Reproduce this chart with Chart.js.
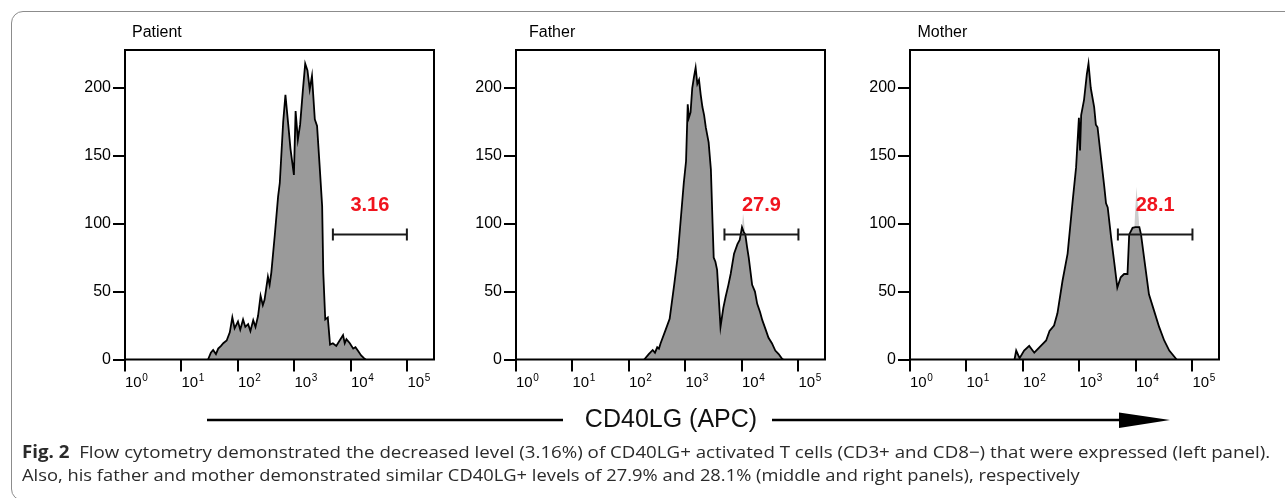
<!DOCTYPE html>
<html>
<head>
<meta charset="utf-8">
<script src="https://cdn.jsdelivr.net/npm/chart.js@4.4.0/dist/chart.umd.min.js"></script>
<style>
    body { margin: 0; background: #fff; width: 1285px; height: 498px; overflow: hidden; position: relative; font-family: "Liberation Sans", Arial, sans-serif; }
    .panel { position: absolute; top: 14px; }
    #frame { position: absolute; left: 11px; top: 11px; width: 1300px; height: 490px; border: 1.5px solid #8c8c8c; border-radius: 12px; box-sizing: border-box; }
    #arrow { position: absolute; left: 0; top: 0; }
    #axisTitle { position: absolute; left: 671px; top: 406px; transform: translateX(-50%); font-size: 25px; line-height: 25px; white-space: nowrap; color: #111; }
    .cap { position: absolute; left: 22px; font-family: "Open Sans", sans-serif; font-size: 17px; line-height: 17px; white-space: nowrap; color: #2a2a2a; transform-origin: 0 0; }
</style>
</head>
<body>
<div id="frame"></div>
<canvas id="PatientCanvas" class="panel" width="400" height="380" style="left:50px"></canvas>
<canvas id="FatherCanvas" class="panel" width="400" height="380" style="left:441px"></canvas>
<canvas id="MotherCanvas" class="panel" width="400" height="380" style="left:835px"></canvas>
<svg id="arrow" width="1285" height="498">
    <line x1="207" y1="420" x2="563" y2="420" stroke="#000" stroke-width="2.5"></line>
    <line x1="772" y1="420" x2="1122" y2="420" stroke="#000" stroke-width="2.5"></line>
    <polygon points="1119,412.5 1170,420 1119,428" fill="#000"></polygon>
</svg>
<div id="axisTitle">CD40LG (APC)</div>
<div id="cap1" class="cap" style="top:443px"><b>Fig. 2</b>&nbsp;&nbsp;Flow cytometry demonstrated the decreased level (3.16%) of CD40LG+ activated T cells (CD3+ and CD8−) that were expressed (left panel).</div>
<div id="cap2" class="cap" style="top:466px">Also, his father and mother demonstrated similar CD40LG+ levels of 27.9% and 28.1% (middle and right panels), respectively</div>

<script>
// x values are in decades (log10 of APC intensity), y values are cell counts
var decadeTicks = [0, 1, 2, 3, 4, 5];

var patientX = [1.47, 1.52, 1.56, 1.61, 1.65, 1.70, 1.74, 1.80, 1.855, 1.90, 1.94, 2.0, 2.04, 2.09, 2.13, 2.18, 2.22, 2.27, 2.31, 2.355, 2.40, 2.44, 2.47, 2.53, 2.56, 2.59, 2.65, 2.71, 2.74, 2.80, 2.84, 2.89, 2.93, 2.99, 3.02, 3.06, 3.10, 3.15, 3.19, 3.23, 3.27, 3.31, 3.36, 3.40, 3.445, 3.49, 3.51, 3.545, 3.59, 3.63, 3.68, 3.74, 3.80, 3.86, 3.89, 3.92, 3.98, 4.04, 4.08, 4.13, 4.18, 4.23, 4.26];
var patientY = [0, 5, 7, 4, 8, 10, 12, 14, 20, 31, 23, 28, 22, 29.5, 24, 26, 21, 29, 24, 32, 47, 40, 44, 61, 55, 64, 91, 120, 130, 175, 195, 173, 155, 136, 183, 162, 173, 199, 218, 213, 199, 209, 177, 172, 143, 113, 64, 29.5, 31, 11, 12, 10, 14, 18, 12, 15, 12, 8, 9, 6, 3, 1, 0];

var fatherX = [2.27, 2.35, 2.42, 2.46, 2.50, 2.53, 2.56, 2.65, 2.72, 2.80, 2.86, 2.90, 2.97, 3.01, 3.04, 3.06, 3.09, 3.12, 3.15, 3.18, 3.21, 3.24, 3.27, 3.30, 3.33, 3.36, 3.41, 3.45, 3.48, 3.50, 3.53, 3.56, 3.62, 3.67, 3.71, 3.76, 3.80, 3.86, 3.92, 3.96, 4.00, 4.03, 4.06, 4.09, 4.12, 4.18, 4.23, 4.27, 4.32, 4.36, 4.42, 4.47, 4.53, 4.59, 4.65, 4.71, 4.73];
var fatherY = [0, 4, 7, 5, 9, 8, 12, 22, 30, 55, 75, 95, 130, 146, 188, 178, 182, 200, 208, 215, 203, 206, 195, 186, 180, 171, 160, 140, 100, 75, 72, 66, 24, 38, 46, 55, 63, 78, 85, 88, 97.5, 94, 92, 83, 75, 55, 50, 41, 35, 29, 22, 16, 12, 6.6, 4, 0.5, 0];

var motherX = [1.85, 1.88, 1.94, 2.02, 2.11, 2.20, 2.29, 2.41, 2.47, 2.55, 2.61, 2.70, 2.79, 2.88, 2.94, 2.99, 3.01, 3.03, 3.08, 3.13, 3.16, 3.20, 3.26, 3.29, 3.32, 3.38, 3.44, 3.47, 3.50, 3.56, 3.62, 3.67, 3.73, 3.79, 3.85, 3.88, 3.94, 3.99, 4.06, 4.09, 4.15, 4.23, 4.32, 4.41, 4.50, 4.59, 4.68, 4.72];
var motherY = [0, 6.6, 1, 6.6, 10, 5, 9, 14, 21, 25, 34, 58, 78, 117, 141.5, 178, 154, 180, 191, 210, 218, 200, 186, 173, 171, 149, 127, 115, 112, 90, 70, 53, 60.6, 63, 63, 92, 97, 97.5, 97.5, 92, 73, 48, 36, 24, 14, 6.6, 2, 0];

// faint light-grey peaks above the gate
var fatherSpikeX = [4.00, 4.02, 4.05];
var fatherSpikeY = [97, 107.5, 97];
var motherSpikeX = [3.97, 4.01, 4.06];
var motherSpikeY = [97, 127, 97];

var panelTitles = ['Patient', 'Father', 'Mother'];
var gatePercent = ['3.16', '27.9', '28.1'];
var gateLow = [3.68, 3.69, 3.68];
var gateHigh = [4.99, 5.0, 5.0];
var gateLevel = [92, 92, 92];

var FONT = '"Liberation Sans", Arial, sans-serif';

function toPoints(xs, ys) {
    var pts = [];
    xs.forEach(function (x, i) {
        pts.push({ x: x, y: ys[i] });
    });
    return pts;
}

var panelDecor = {
    id: 'panelDecor',
    afterDraw: function (chart) {
        var o = chart.options.plugins.panelDecor;
        var ctx = chart.ctx;
        var a = chart.chartArea;
        var xs = chart.scales.x, ys = chart.scales.y;
        ctx.save();
        ctx.strokeStyle = '#000';
        ctx.lineWidth = 2;
        ctx.strokeRect(a.left, a.top, a.right - a.left, a.bottom - a.top);

        // exponents of the 10^n tick labels
        ctx.font = '15px ' + FONT;
        var base = ctx.measureText('10').width;
        ctx.font = '10px ' + FONT;
        ctx.fillStyle = '#000';
        ctx.textAlign = 'left';
        ctx.textBaseline = 'top';
        decadeTicks.forEach(function (d) {
            ctx.fillText(String(d), xs.getPixelForValue(d) + base + 0.5, a.bottom + 14);
        });

        ctx.font = '16px ' + FONT;
        ctx.textBaseline = 'middle';
        ctx.fillText(o.title, a.left + o.titleOffset, a.top - 17);

        ctx.fillStyle = '#f0141e';
        ctx.font = 'bold 20px ' + FONT;
        ctx.textAlign = 'center';
        ctx.fillText(o.percent, xs.getPixelForValue((o.low + o.high) / 2), ys.getPixelForValue(o.level) - 29);
        ctx.restore();
    }
};

function InitPanel(canvasId, i, xs, ys, spikeX, spikeY, titleOffset) {
    var datasets = [
        {
            label: 'gate',
            data: toPoints([gateLow[i], gateHigh[i]], [gateLevel[i], gateLevel[i]]),
            borderColor: '#1a1a1a',
            borderWidth: 2,
            pointStyle: 'line',
            rotation: 90,
            pointRadius: 6,
            pointBorderWidth: 2,
            pointBorderColor: '#1a1a1a',
            fill: false,
            order: 0
        },
        {
            label: panelTitles[i],
            data: toPoints(xs, ys),
            borderColor: '#000',
            borderWidth: 1.8,
            backgroundColor: '#9a9a9a',
            pointRadius: 0,
            tension: 0,
            fill: 'origin',
            order: 1
        }
    ];
    if (spikeX) {
        datasets.push({
            label: 'spike',
            data: toPoints(spikeX, spikeY),
            borderWidth: 0,
            borderColor: 'rgba(0,0,0,0)',
            backgroundColor: 'rgba(200,200,200,0.9)',
            pointRadius: 0,
            fill: 'origin',
            order: 2
        });
    }

    new Chart(document.getElementById(canvasId), {
        type: 'line',
        data: { datasets: datasets },
        options: {
            responsive: false,
            animation: false,
            layout: { padding: { left: 0, top: 36, right: 16, bottom: 4.5 } },
            plugins: {
                legend: { display: false },
                tooltip: { enabled: false },
                panelDecor: {
                    title: panelTitles[i],
                    titleOffset: titleOffset,
                    percent: gatePercent[i],
                    low: gateLow[i],
                    high: gateHigh[i],
                    level: gateLevel[i]
                }
            },
            scales: {
                x: {
                    type: 'linear',
                    min: 0,
                    max: 5.47,
                    afterFit: function (scale) { scale.height = 30; },
                    border: { display: false },
                    grid: { drawOnChartArea: false, drawTicks: true, tickLength: 12, color: '#000', lineWidth: 2 },
                    ticks: {
                        stepSize: 1,
                        includeBounds: false,
                        autoSkip: false,
                        maxRotation: 0,
                        align: 'start',
                        padding: 2,
                        color: '#000',
                        font: { family: FONT, size: 15 },
                        callback: function () { return '10'; }
                    }
                },
                y: {
                    min: 0,
                    max: 228,
                    afterFit: function (scale) { scale.width = 75; },
                    border: { display: false },
                    grid: { drawOnChartArea: false, drawTicks: true, tickLength: 12, color: '#000', lineWidth: 2 },
                    ticks: {
                        stepSize: 50,
                        includeBounds: false,
                        padding: 2,
                        color: '#000',
                        font: { family: FONT, size: 16 }
                    }
                }
            }
        },
        plugins: [panelDecor]
    });
}

InitPanel('PatientCanvas', 0, patientX, patientY, null, null, 7);
InitPanel('FatherCanvas', 1, fatherX, fatherY, fatherSpikeX, fatherSpikeY, 13);
InitPanel('MotherCanvas', 2, motherX, motherY, motherSpikeX, motherSpikeY, 7.5);

function FitCaption() {
    var c1 = document.getElementById('cap1');
    var c2 = document.getElementById('cap2');
    c1.style.transform = 'scaleX(' + (1248 / c1.offsetWidth) + ')';
    c2.style.transform = 'scaleX(' + (1058 / c2.offsetWidth) + ')';
}
FitCaption();
if (document.fonts && document.fonts.ready) {
    document.fonts.ready.then(FitCaption);
}
</script>
</body>
</html>
